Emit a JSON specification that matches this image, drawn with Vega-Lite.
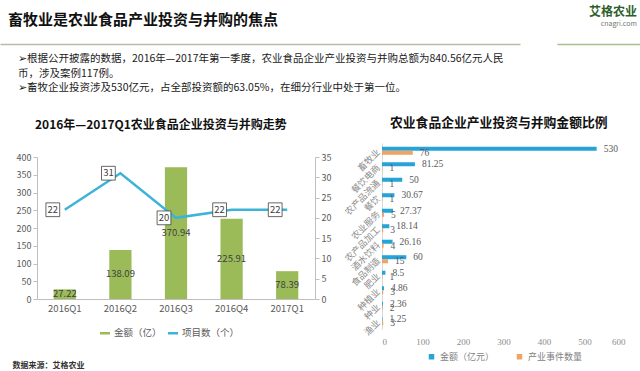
{
  "$schema": "https://vega.github.io/schema/vega-lite/v6.json",
  "background": "white",
  "padding": {"left": 0, "right": 0, "top": 6, "bottom": 0},
  "spacing": 23,
  "resolve": {"scale": {"color": "independent"}, "legend": {"color": "independent"}},
  "config": {
    "view": {"stroke": null},
    "font": "Noto Sans CJK SC",
    "axis": {"labelFont": "Noto Sans CJK SC", "titleFont": "Noto Sans CJK SC", "labelColor": "#595959", "domainColor": "#bfbfbf", "tickColor": "#bfbfbf", "grid": false},
    "legend": {"labelFont": "Noto Sans CJK SC", "labelColor": "#595959"},
    "title": {"font": "Noto Sans CJK SC", "frame": "group"}
  },
  "vconcat": [
    {
      "spacing": 0,
      "title": {
        "text": ["➢根据公开披露的数据，2016年—2017年第一季度，农业食品企业产业投资与并购总额为840.56亿元人民", "币，涉及案例117例。", "➢畜牧企业投资涉及530亿元，占全部投资额的63.05%，在细分行业中处于第一位。"],
        "orient": "bottom", "anchor": "start", "fontSize": 10.5, "fontWeight": "normal", "color": "#1a1a1a", "lineHeight": 14.7, "offset": 10, "dx": -19
      },
      "hconcat": [
        {
          "width": 483, "height": 1,
          "data": {"values": []},
          "mark": "point",
          "encoding": {
            "x": {"datum": 0, "type": "quantitative", "scale": {"domain": [0, 1], "range": [-37, 483]},
              "axis": {"title": null, "labels": false, "ticks": false, "domainColor": "#b3bca8", "domainWidth": 1.5}}
          },
          "title": {"text": "畜牧业是农业食品产业投资与并购的焦点", "anchor": "start", "fontSize": 15, "fontWeight": "bold", "color": "#111111", "dx": -29, "offset": 15}
        },
        {
          "width": 120, "height": 1,
          "data": {"values": []},
          "mark": "point",
          "encoding": {
            "x": {"datum": 0, "type": "quantitative", "scale": {"domain": [0, 1], "range": [0, 120]},
              "axis": {"title": null, "labels": false, "ticks": false, "domainColor": "#a9bf8c", "domainWidth": 1.5}}
          },
          "title": {"text": "艾格农业", "subtitle": "cnagri.com", "anchor": "end", "fontSize": 12, "color": "#2e5e2a", "subtitleFontSize": 7, "subtitleColor": "#777777", "subtitlePadding": 1, "dx": -40, "offset": 15}
        }
      ]
    },
    {
      "spacing": 2,
      "resolve": {"scale": {"color": "independent"}, "legend": {"color": "independent"}},
      "hconcat": [
        {
          "width": 278, "height": 156,
          "title": {"text": "2016年—2017Q1农业食品企业投资与并购走势", "anchor": "start", "dx": -2, "fontSize": 12, "fontWeight": "bold", "color": "#111111", "offset": 11},
          "data": {"values": [
            {"q": "2016Q1", "amount": 27.22, "count": 22},
            {"q": "2016Q2", "amount": 138.09, "count": 31},
            {"q": "2016Q3", "amount": 370.94, "count": 20},
            {"q": "2016Q4", "amount": 225.91, "count": 22},
            {"q": "2017Q1", "amount": 78.39, "count": 22}
          ]},
          "encoding": {
            "x": {"field": "q", "type": "nominal", "sort": null, "scale": {"paddingInner": 0.6, "paddingOuter": 0.3},
              "axis": {"title": "数据来源：艾格农业", "labelAngle": 0, "labelFontSize": 9.5, "labelPadding": 4, "ticks": false, "titleAnchor": "start", "titleX": -25, "titleY": 62, "titleFontSize": 8, "titleFontWeight": "bold", "titleColor": "#333333"}}
          },
          "layer": [
            {
              "mark": {"type": "bar"},
              "encoding": {
                "y": {"field": "amount", "type": "quantitative", "scale": {"domain": [0, 400], "range": [156, 14]},
                  "axis": {"title": null, "values": [0, 50, 100, 150, 200, 250, 300, 350, 400], "labelFontSize": 9, "tickSize": 4, "minExtent": 37, "maxExtent": 37}},
                "color": {"datum": "金额（亿）", "type": "nominal",
                  "scale": {"domain": ["金额（亿）", "项目数（个）"], "range": ["#9bbb59", "#3cb4d8"]},
                  "legend": {"orient": "none", "legendX": 63, "legendY": 185, "direction": "horizontal", "title": null, "symbolType": "M-1,-0.25H1V0.25H-1Z", "symbolSize": 100, "symbolStrokeWidth": 0, "labelFontSize": 9.5, "columnPadding": 6}}
              }
            },
            {
              "mark": {"type": "line", "strokeWidth": 2.5},
              "encoding": {
                "y": {"field": "count", "type": "quantitative", "scale": {"domain": [0, 35], "range": [156, 14]},
                  "axis": {"orient": "right", "title": null, "values": [0, 5, 10, 15, 20, 25, 30, 35], "labelFontSize": 9, "tickSize": 4, "minExtent": 20, "maxExtent": 20}},
                "color": {"datum": "项目数（个）", "type": "nominal"}
              }
            },
            {
              "mark": {"type": "text", "fontSize": 9.5, "color": "#404040"},
              "encoding": {
                "y": {"field": "amount", "type": "quantitative", "scale": {"domain": [0, 800], "range": [156, 14]}, "axis": null},
                "text": {"field": "amount", "type": "quantitative", "format": ".2f"}
              }
            },
            {
              "mark": {"type": "point", "shape": "square", "filled": true, "fill": "white", "stroke": "#404040", "strokeWidth": 0.8, "size": 190, "xOffset": -12, "opacity": 1},
              "encoding": {
                "y": {"field": "count", "type": "quantitative", "scale": {"domain": [0, 35], "range": [156, 14]}, "axis": null}
              }
            },
            {
              "mark": {"type": "text", "fontSize": 9.5, "color": "#404040", "dx": -12},
              "encoding": {
                "y": {"field": "count", "type": "quantitative", "scale": {"domain": [0, 35], "range": [156, 14]}, "axis": null},
                "text": {"field": "count", "type": "quantitative"}
              }
            }
          ],
          "resolve": {"scale": {"y": "independent"}}
        },
        {
          "width": 243, "height": 186,
          "title": {"text": "农业食品企业产业投资与并购金额比例", "anchor": "start", "dx": 8, "fontSize": 12.8, "fontWeight": "bold", "color": "#111111", "offset": 13},
          "data": {"values": [
            {"c": "畜牧业", "s": "金额（亿元）", "v": 530},
            {"c": "畜牧业", "s": "产业事件数量", "v": 76},
            {"c": "餐饮电商", "s": "金额（亿元）", "v": 81.25},
            {"c": "餐饮电商", "s": "产业事件数量", "v": 1},
            {"c": "农产品流通", "s": "金额（亿元）", "v": 50},
            {"c": "农产品流通", "s": "产业事件数量", "v": 1},
            {"c": "餐饮", "s": "金额（亿元）", "v": 30.67},
            {"c": "餐饮", "s": "产业事件数量", "v": 1},
            {"c": "农业服务", "s": "金额（亿元）", "v": 27.37},
            {"c": "农业服务", "s": "产业事件数量", "v": 5},
            {"c": "农产品加工", "s": "金额（亿元）", "v": 18.14},
            {"c": "农产品加工", "s": "产业事件数量", "v": 3},
            {"c": "酒水饮料", "s": "金额（亿元）", "v": 26.16},
            {"c": "酒水饮料", "s": "产业事件数量", "v": 4},
            {"c": "食品制造", "s": "金额（亿元）", "v": 60},
            {"c": "食品制造", "s": "产业事件数量", "v": 15},
            {"c": "肥业", "s": "金额（亿元）", "v": 8.5},
            {"c": "肥业", "s": "产业事件数量", "v": 1},
            {"c": "种植业", "s": "金额（亿元）", "v": 4.86},
            {"c": "种植业", "s": "产业事件数量", "v": 3},
            {"c": "种业", "s": "金额（亿元）", "v": 2.36},
            {"c": "种业", "s": "产业事件数量", "v": 2},
            {"c": "渔业", "s": "金额（亿元）", "v": 1.25},
            {"c": "渔业", "s": "产业事件数量", "v": 3}
          ]},
          "encoding": {
            "y": {"field": "c", "type": "nominal", "sort": null, "scale": {"paddingInner": 0.48, "paddingOuter": 0.24},
              "axis": {"title": null, "labelAngle": -45, "labelFontSize": 9, "labelColor": "#8c8c8c", "ticks": false, "domainColor": "#d9d9d9", "minExtent": 45, "maxExtent": 45, "labelPadding": 4}},
            "yOffset": {"field": "s", "type": "nominal", "sort": null, "scale": {"domain": ["金额（亿元）", "产业事件数量"]}},
            "x": {"field": "v", "type": "quantitative", "scale": {"domain": [0, 600]},
              "axis": {"title": null, "values": [0, 100, 200, 300, 400, 500, 600], "domain": false, "ticks": false, "labelFont": "Liberation Serif", "labelFontSize": 9, "labelColor": "#8c8c8c", "labelPadding": 8}}
          },
          "layer": [
            {
              "mark": {"type": "bar"},
              "encoding": {
                "color": {"field": "s", "type": "nominal", "sort": null,
                  "scale": {"domain": ["金额（亿元）", "产业事件数量"], "range": ["#26a4d9", "#f0a463"]},
                  "legend": {"orient": "none", "legendX": 45, "legendY": 209, "direction": "horizontal", "title": null, "symbolType": "square", "symbolSize": 30, "labelFontSize": 9, "labelColor": "#7f7f7f", "columnPadding": 20}}
              }
            },
            {
              "mark": {"type": "text", "align": "left", "dx": 7, "font": "Liberation Serif", "fontSize": 9.5, "color": "#595959"},
              "encoding": {"text": {"field": "v", "type": "quantitative", "format": "~f"}}
            }
          ]
        }
      ]
    }
  ]
}
